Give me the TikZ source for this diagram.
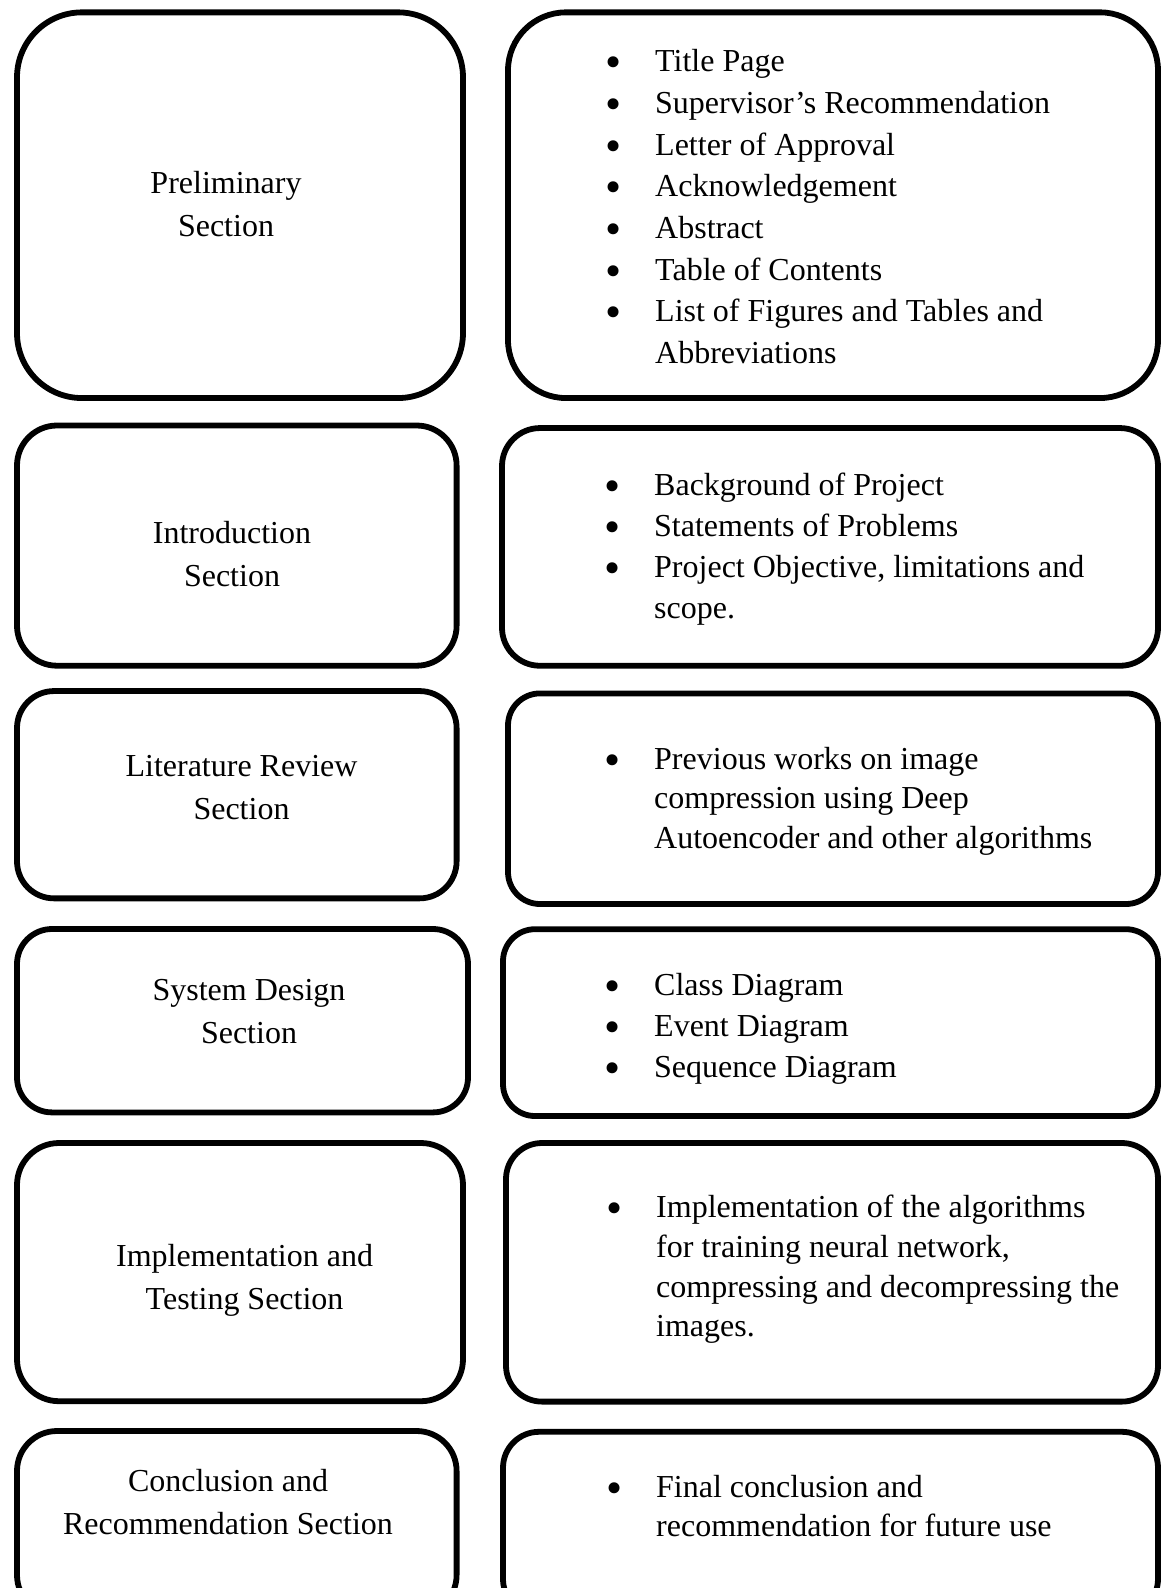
\documentclass[tikz,border=0pt]{standalone}
\usepackage{fontspec}
\setmainfont{Liberation Serif}
% bullet hung to the left of the item text
\newcommand\bul{\llap{\raisebox{-6pt}{\fontsize{46}{0}\selectfont\textbullet}\hspace{34pt}}}
\begin{document}
\begin{tikzpicture}[x=1pt,y=-1pt,
  box/.style={draw=black, line width=5.8pt, rectangle, inner sep=0pt},
  head/.style={font=\fontsize{32}{43}\selectfont, align=center, anchor=base, inner sep=0pt},
  items/.style={font=\fontsize{32}{41.67}\selectfont, align=left, anchor=base west, inner sep=0pt},
]
\useasboundingbox (0,0) rectangle (1161,1588);
\clip (0,0) rectangle (1161,1588);

% left column: section boxes
\node[box, minimum width=446pt, minimum height=385.7pt, rounded corners=65pt] (s1) at (240,205.2) {};
\node[box, minimum width=439.6pt, minimum height=240.2pt, rounded corners=40pt] (s2) at (236.8,545.6) {};
\node[box, minimum width=439.6pt, minimum height=207.3pt, rounded corners=37pt] (s3) at (236.8,794.7) {};
\node[box, minimum width=451pt, minimum height=183.4pt, rounded corners=35pt] (s4) at (242.5,1020.7) {};
\node[box, minimum width=446pt, minimum height=258.2pt, rounded corners=42pt] (s5) at (240,1272.1) {};
\node[box, minimum width=439.6pt, minimum height=184pt, rounded corners=40pt] (s6) at (236.8,1523) {};

% right column: content boxes
\node[box, minimum width=650pt, minimum height=385.7pt, rounded corners=58pt] (c1) at (833,205.2) {};
\node[box, minimum width=656pt, minimum height=237.7pt, rounded corners=38pt] (c2) at (830,546.9) {};
\node[box, minimum width=650pt, minimum height=210.6pt, rounded corners=32pt] (c3) at (833,798.7) {};
\node[box, minimum width=655pt, minimum height=186.8pt, rounded corners=32pt] (c4) at (830.5,1022.6) {};
\node[box, minimum width=652pt, minimum height=258.6pt, rounded corners=36pt] (c5) at (832,1272.3) {};
\node[box, minimum width=655pt, minimum height=183.2pt, rounded corners=36pt] (c6) at (830.5,1523.4) {};

% section titles (placed by the baseline of their last line)
\node[head] (t1) at (226,236.6) {Preliminary\\Section};
\node[head] (t2) at (232,586) {Introduction\\Section};
\node[head] (t3) at (241.5,819) {Literature Review\\Section};
\node[head] (t4) at (249,1043) {System Design\\Section};
\node[head] (t5) at (244.6,1309) {Implementation and\\Testing Section};
\node[head] (t6) at (228,1534) {Conclusion and\\Recommendation Section};

% section contents (placed by the baseline of their last line)
\node[items] (i1) at (655,363.4) {\bul Title Page\\\bul Supervisor’s Recommendation\\\bul Letter of Approval\\\bul Acknowledgement\\\bul Abstract\\\bul Table of Contents\\\bul List of Figures and Tables and\\Abbreviations};
\node[items, font=\fontsize{32}{41.1}\selectfont] (i2) at (654,618.6) {\bul Background of Project\\\bul Statements of Problems\\\bul Project Objective, limitations and\\scope.};
\node[items, font=\fontsize{32}{39.7}\selectfont] (i3) at (654,848.4) {\bul Previous works on image\\compression using Deep\\Autoencoder and other algorithms};
\node[items, font=\fontsize{32}{41}\selectfont] (i4) at (654,1077) {\bul Class Diagram\\\bul Event Diagram\\\bul Sequence Diagram};
\node[items, font=\fontsize{32}{39.8}\selectfont] (i5) at (656,1336.9) {\bul Implementation of the algorithms\\for training neural network,\\compressing and decompressing the\\images.};
\node[items, font=\fontsize{32}{38.9}\selectfont] (i6) at (656,1536.3) {\bul Final conclusion and\\recommendation for future use};
\end{tikzpicture}
\end{document}
